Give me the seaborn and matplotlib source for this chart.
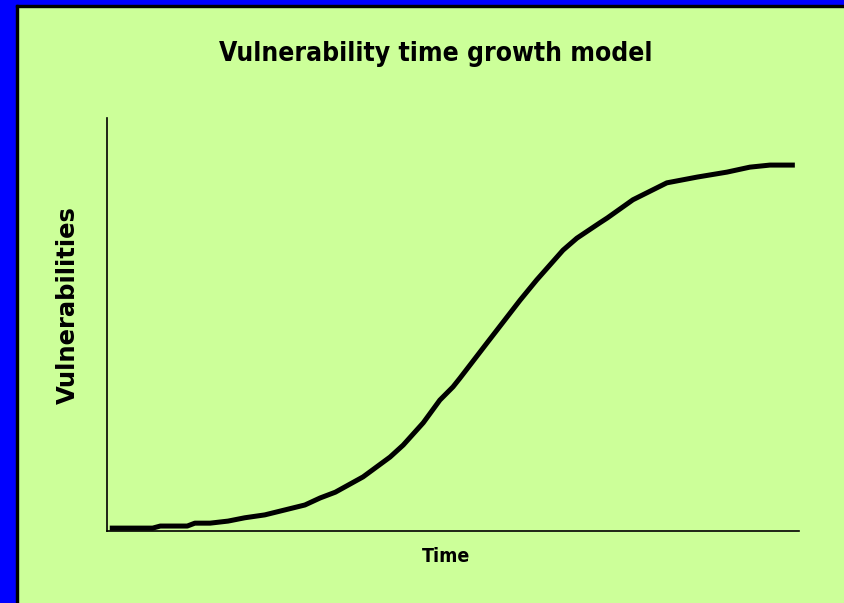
import pandas as pd
import matplotlib.pyplot as plt
import seaborn as sns
from matplotlib.patches import Rectangle

# Curve (time and vulnerabilities in % of axis range)
time = [0.4, 6.6, 7.7, 11.6, 12.7, 14.9, 17.5, 19.9, 22.8, 25.7, 28.6, 30.8,
        33.0, 37.0, 40.9, 42.8, 45.7, 48.1, 50.0, 51.0, 54.9, 59.7, 62.1,
        65.9, 67.9, 71.2, 72.3, 76.0, 80.9, 85.3, 89.6, 92.9, 95.8, 99.4]
vulnerabilities = [0.7, 0.7, 1.2, 1.2, 1.9, 1.9, 2.4, 3.2, 3.9, 5.1, 6.3, 8.0,
                   9.4, 13.1, 17.9, 20.8, 26.2, 31.7, 34.9, 37.0, 45.5, 55.9,
                   60.8, 68.0, 70.9, 74.6, 75.8, 80.2, 84.3, 85.7, 86.9, 88.1,
                   88.6, 88.6]

df = pd.DataFrame({'time': time, 'vulnerabilities': vulnerabilities})

bg = '#CCFF99'
sns.set_style('white')
plt.rcParams['font.family'] = ['Liberation Sans', 'DejaVu Sans']
plt.rcParams['text.color'] = 'black'

fig = plt.figure(figsize=(8.44, 6.03), dpi=100, facecolor=bg)
W, H = 844, 603

# blue frame on left and top with thin black inner edge
fig.patches.append(Rectangle((0, 0), 16 / W, 1, transform=fig.transFigure,
                             color='#0000FF', zorder=0))
fig.patches.append(Rectangle((0, 1 - 5 / H), 1, 5 / H, transform=fig.transFigure,
                             color='#0000FF', zorder=0))
fig.patches.append(Rectangle((16 / W, 0), 2 / W, 1 - 5 / H, transform=fig.transFigure,
                             color='black', zorder=1))
fig.patches.append(Rectangle((16 / W, 1 - 7 / H), 1 - 16 / W, 2 / H,
                             transform=fig.transFigure, color='black', zorder=1))

ax = fig.add_axes([107 / W, 1 - 531 / H, 692 / W, 413 / H])
ax.set_facecolor(bg)
sns.lineplot(data=df, x='time', y='vulnerabilities', ax=ax, color='black',
             linewidth=3.6, solid_capstyle='butt')
ax.set_xlim(0, 100)
ax.set_ylim(0, 100)
ax.set_xticks([])
ax.set_yticks([])
ax.set_xlabel('')
ax.set_ylabel('')
for side in ['top', 'right']:
    ax.spines[side].set_visible(False)
for side in ['left', 'bottom']:
    ax.spines[side].set_color('black')
    ax.spines[side].set_linewidth(1.2)

fig.text(436 / W, 1 - 54 / H, 'Vulnerability time growth model', ha='center',
         va='center', fontsize=19, fontweight='bold', color='black',
         family=['DejaVu Sans'], fontstretch='condensed')
fig.text(446 / W, 1 - 557 / H, 'Time', ha='center', va='center', fontsize=14,
         fontweight='bold', color='black',
         family=['DejaVu Sans'], fontstretch='condensed')
fig.text(68 / W, 1 - 305 / H, 'Vulnerabilities', ha='center', va='center',
         rotation=90, fontsize=17.5, fontweight='bold', color='black',
         family=['DejaVu Sans'])

fig.savefig('out.png', dpi=100, facecolor=bg)
